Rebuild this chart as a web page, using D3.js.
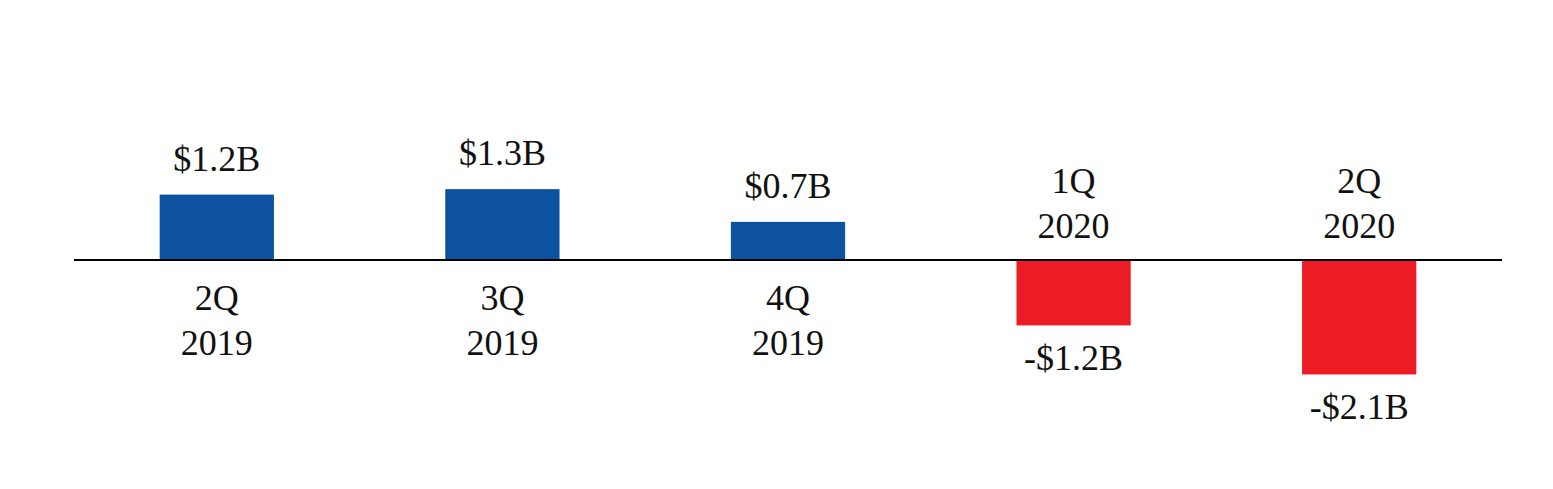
<!DOCTYPE html>
<html>
<head>
<meta charset="utf-8">
<script src="https://cdn.jsdelivr.net/npm/d3@7"></script>
<style>
  html, body { margin: 0; padding: 0; background: #fff; }
  svg { display: block; }
  text { font-family: "Liberation Serif", "Times New Roman", serif; font-size: 36px; fill: #111; }
</style>
</head>
<body>
<svg id="chart" width="1553" height="489"></svg>
<script>
const quarters = ["2Q", "3Q", "4Q", "1Q", "2Q"];
const years = ["2019", "2019", "2019", "2020", "2020"];
const values = [1.2, 1.3, 0.7, -1.2, -2.1];
const valueLabels = ["$1.2B", "$1.3B", "$0.7B", "-$1.2B", "-$2.1B"];

const posColor = "#0C529F";
const negColor = "#ED1C24";

const svg = d3.select("#chart");
const idx = d3.range(values.length);

const x = d3.scaleBand()
  .domain(idx)
  .range([74, 1502])
  .paddingInner(0.6)
  .paddingOuter(0.3);

const y = d3.scaleLinear()
  .domain([-3, 3])
  .range([260 + 3 * 54.5, 260 - 3 * 54.5]);

// bars
svg.append("g").selectAll("rect")
  .data(idx)
  .join("rect")
  .attr("x", i => x(i))
  .attr("width", x.bandwidth())
  .attr("y", i => y(Math.max(0, values[i])))
  .attr("height", i => Math.abs(y(values[i]) - y(0)))
  .attr("fill", i => values[i] >= 0 ? posColor : negColor);

// zero baseline
svg.append("line")
  .attr("x1", x.range()[0]).attr("x2", x.range()[1])
  .attr("y1", y(0)).attr("y2", y(0))
  .attr("stroke", "#000").attr("stroke-width", 2);

const cx = i => x(i) + x.bandwidth() / 2;

// value labels
svg.append("g").selectAll("text")
  .data(idx)
  .join("text")
  .attr("text-anchor", "middle")
  .attr("x", cx)
  .attr("y", i => values[i] >= 0 ? y(values[i]) - 24 : y(values[i]) + 45)
  .text(i => valueLabels[i]);

// category labels (opposite side of bar)
const cat = svg.append("g").selectAll("text")
  .data(idx)
  .join("text")
  .attr("text-anchor", "middle")
  .attr("x", cx)
  .attr("y", i => values[i] >= 0 ? y(0) + 50 : y(0) - 67);
cat.append("tspan").attr("x", cx).text(i => quarters[i]);
cat.append("tspan").attr("x", cx).attr("dy", 44.5).text(i => years[i]);
</script>
</body>
</html>
